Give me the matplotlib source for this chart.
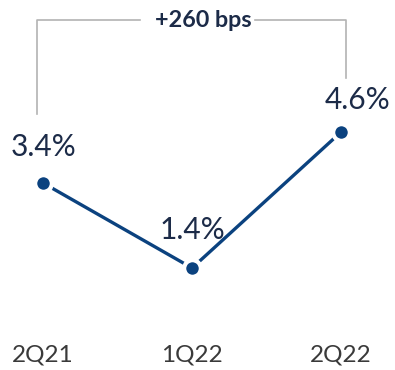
import matplotlib
matplotlib.use('Agg')
import matplotlib.pyplot as plt

quarters = ['2Q21', '1Q22', '2Q22']
values   = [3.4, 1.4, 4.6]
labels   = ['3.4%', '1.4%', '4.6%']
change   = '+260 bps'

LINE_COL  = '#0b427f'
TEXT_COL  = '#1c2b48'
CAT_COL   = '#3a3a3a'
GREY      = '#b3b3b3'
FONT      = ['Lato', 'DejaVu Sans']

fig = plt.figure(figsize=(3.95, 3.7), dpi=100)
ax = fig.add_axes([0, 0, 1, 1])
ax.set_xlim(-0.289, 2.362)
ax.set_ylim(-1.0, 7.706)
ax.axis('off')

xs = list(range(len(quarters)))
ax.plot(xs, values, color=LINE_COL, lw=2.4, marker='o', markersize=12,
        markerfacecolor=LINE_COL, markeredgecolor='white', markeredgewidth=3,
        solid_capstyle='butt', zorder=3)

# value labels
offsets = [(0, 0.85), (0, 0.9), (0.11, 0.75)]
for x, v, lab, (dx, dy) in zip(xs, values, labels, offsets):
    ax.text(x + dx, v + dy, lab, ha='center', va='center', fontsize=21.5,
            color=TEXT_COL, family=FONT)

# category labels
for x, q in zip(xs, quarters):
    ax.text(x, -0.65, q, ha='center', va='center', fontsize=17.5,
            color=CAT_COL, family=FONT)

# bracket with change annotation
top = 7.235
xl, xr = xs[0] - 0.04, xs[-1] + 0.034
ax.plot([xl, xl, 0.65], [values[0] + 1.62, top, top], color=GREY, lw=1.2)
ax.plot([1.42, xr, xr], [top, top, values[-1] + 1.27], color=GREY, lw=1.2)
ax.text((xl + xr) / 2 + 0.08, top, change, ha='center', va='center',
        fontsize=16.8, fontweight='bold', color=TEXT_COL, family=FONT)

fig.savefig('out.png', dpi=100)
